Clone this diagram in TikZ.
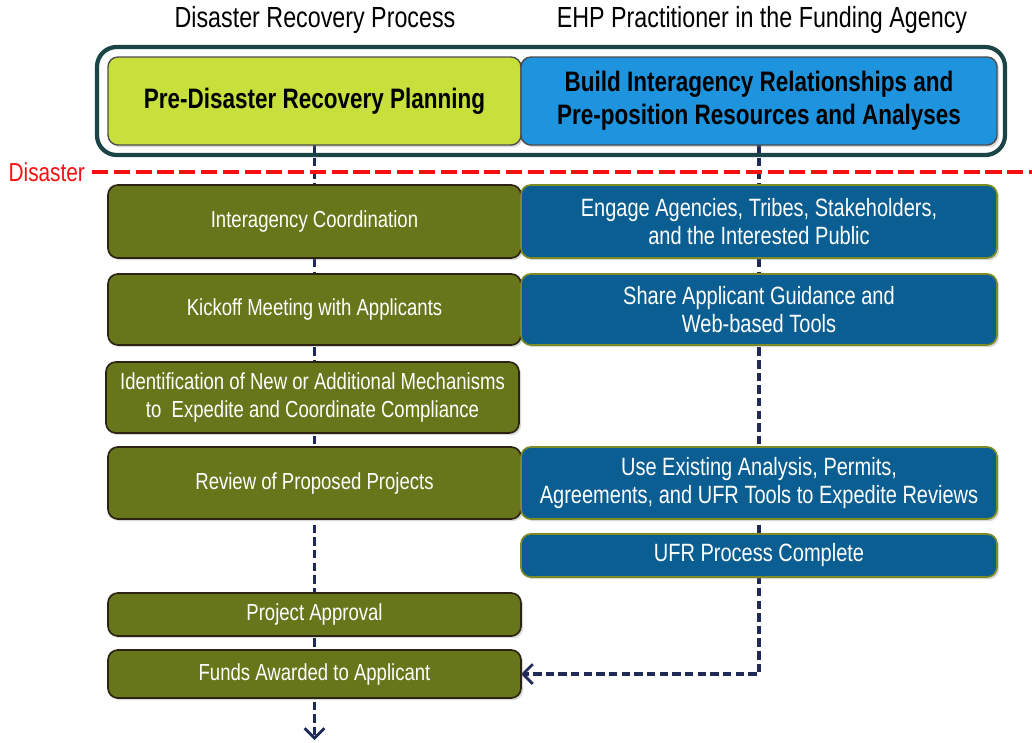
\documentclass[tikz,border=0pt]{standalone}
\usepackage{fontspec}
\setmainfont{Liberation Sans}
\newfontfamily\narrowfont{Liberation Sans}[FakeStretch=0.8]
\usepackage{tikz}
\usetikzlibrary{arrows.meta,backgrounds,shadows}
\definecolor{limebox}{HTML}{C8E03C}
\definecolor{skybox}{HTML}{1E93DE}
\definecolor{olivebox}{HTML}{68761B}
\definecolor{oliveedge}{HTML}{2B2412}
\definecolor{navybox}{HTML}{0A5E92}
\definecolor{navyedge}{HTML}{7E8A24}
\definecolor{framecol}{HTML}{1A4446}
\definecolor{flowcol}{HTML}{1F2A58}
\definecolor{disastercol}{HTML}{F61010}
\tikzstyle{phase}=[rounded corners=7pt, inner sep=0, outer sep=0, align=center, text=white,
                   font=\narrowfont\fontsize{16.5}{20}\selectfont,
                   drop shadow={opacity=0.3, shadow xshift=1.5pt, shadow yshift=-1.5pt}]
\tikzstyle{lphase}=[phase, fill=olivebox, draw=oliveedge, line width=1.2pt, minimum width=10.325cm]
\tikzstyle{rphase}=[phase, fill=navybox, draw=navyedge, line width=1.2pt, minimum width=11.9cm,
                    font=\narrowfont\fontsize{17.8}{20}\selectfont]
\tikzstyle{topphase}=[phase, text=black, minimum height=2.2cm, draw=black!70, line width=1pt,
                      font=\narrowfont\bfseries\fontsize{20}{23.5}\selectfont]
\tikzstyle{heading}=[inner sep=0, font=\narrowfont\fontsize{20.7}{24}\selectfont]
\tikzstyle{flow}=[draw=flowcol, line width=2.2pt, dash pattern=on 6pt off 3pt]

\begin{document}
\begin{tikzpicture}
    \useasboundingbox (0, 0) rectangle (25.8, -18.55);
    % column headings
    \node[heading] (H1) at (7.875, -0.5) {Disaster Recovery Process};
    \node[heading] (H2) at (19.05, -0.5) {EHP Practitioner in the Funding Agency};
    % pre-disaster frame
    \draw[framecol, line width=3pt, rounded corners=14pt] (2.425, -1.175) rectangle (25.125, -3.875);
    \node[topphase, fill=limebox, minimum width=10.325cm] (Plan)  at (7.8625, -2.525) {Pre-Disaster Recovery Planning};
    \node[topphase, fill=skybox, minimum width=11.9cm]    (Build) at (18.975, -2.525) {Build Interagency Relationships and\\Pre-position Resources and Analyses};
    % disaster line
    \node[inner sep=0, anchor=east, text=disastercol, font=\narrowfont\fontsize{18.5}{22}\selectfont] (Dis) at (2.13, -4.3) {Disaster};
    \coordinate (DisEnd) at (25.8, -4.3);
    \draw[disastercol, line width=3.5pt, dash pattern=on 11.5pt off 4pt] (Dis.east) ++(0.17, 0) -- (DisEnd);
    % recovery process
    \node[lphase, minimum height=1.825cm] (Coord)    at (7.8625, -5.5375)  {Interagency Coordination};
    \node[lphase, minimum height=1.775cm] (Kickoff)  at (7.8625, -7.7375)  {Kickoff Meeting with Applicants};
    \node[lphase, minimum height=1.775cm] (Ident)    at (7.8125, -9.9375)  {Identification of New or Additional Mechanisms\\to\ \ Expedite and Coordinate Compliance};
    \node[lphase, minimum height=1.8cm]   (Review)   at (7.8625, -12.075)  {Review of Proposed Projects};
    \node[lphase, minimum height=1.075cm] (Approval) at (7.8625, -15.3625) {Project Approval};
    \node[lphase, minimum height=1.2cm]   (Funds)    at (7.8625, -16.85)   {Funds Awarded to Applicant};
    % EHP practitioner
    \node[rphase, minimum height=1.825cm] (Engage)   at (18.975, -5.5375)  {Engage Agencies, Tribes, Stakeholders,\\and the Interested Public};
    \node[rphase, minimum height=1.775cm] (Share)    at (18.975, -7.7375)  {Share Applicant Guidance and\\Web-based Tools};
    \node[rphase, minimum height=1.8cm]   (Existing) at (18.975, -12.075)  {Use Existing Analysis, Permits,\\Agreements, and UFR Tools to Expedite Reviews};
    \node[rphase, minimum height=1.075cm] (UFR)      at (18.975, -13.8875) {UFR Process Complete};
    \coordinate (End) at (7.8625, -18.5);
    \begin{scope}[on background layer]
        \draw[flow, -{Straight Barb[length=7pt, width=14pt, line width=2pt]}] (Plan.south) -- (End);
        \draw[flow, -{Straight Barb[length=7pt, width=14pt, line width=2pt]}] (Build.south) |- (Funds.east);
    \end{scope}
\end{tikzpicture}
\end{document}
